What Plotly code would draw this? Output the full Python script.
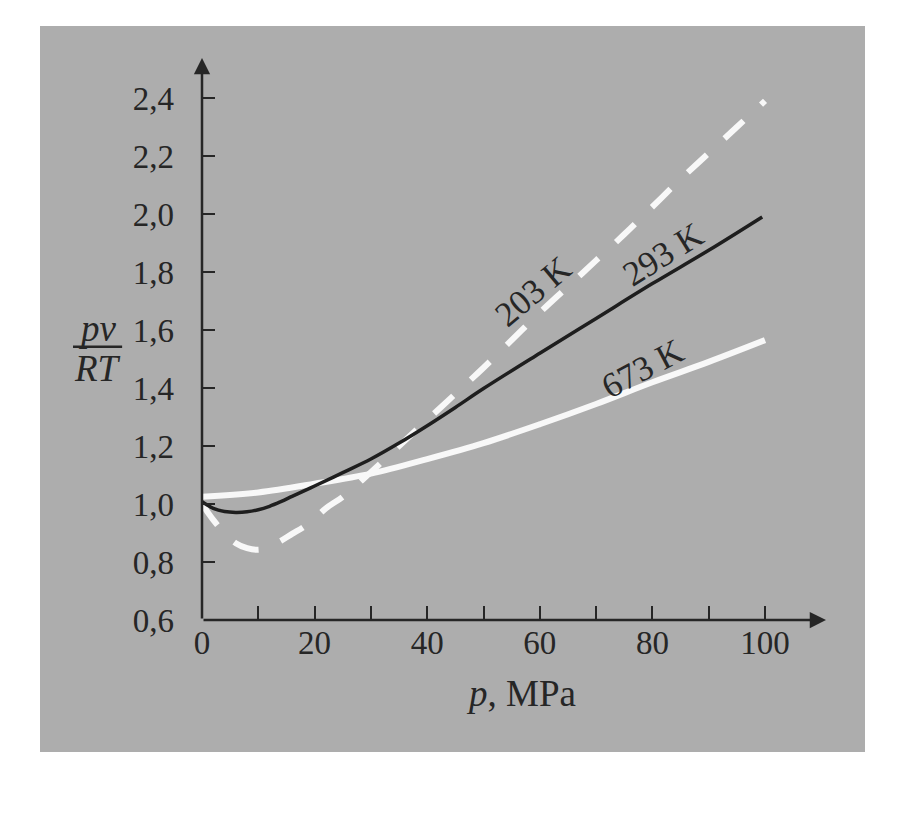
import plotly.graph_objects as go

# ---- data ----
p_203 = [0, 2, 4, 6, 8, 10, 12, 14, 16, 18, 20, 22, 25, 30, 35, 40, 45, 50, 55, 60, 65, 70, 75, 80, 85, 90, 95, 100]
v_203 = [1.0, 0.945, 0.90, 0.865, 0.848, 0.842, 0.852, 0.873, 0.897, 0.92, 0.95, 0.985, 1.025, 1.11, 1.20, 1.29,
         1.38, 1.47, 1.565, 1.66, 1.75, 1.84, 1.93, 2.025, 2.12, 2.21, 2.30, 2.39]

p_293 = [0, 2, 4, 6, 8, 10, 12, 14, 16, 20, 25, 30, 35, 40, 45, 50, 60, 70, 80, 90, 99.5]
v_293 = [1.008, 0.985, 0.974, 0.971, 0.973, 0.98, 0.992, 1.008, 1.026, 1.062, 1.108, 1.155, 1.21, 1.27,
         1.333, 1.398, 1.52, 1.64, 1.76, 1.875, 1.99]

p_673 = [0, 10, 20, 30, 40, 50, 60, 70, 80, 90, 100]
v_673 = [1.025, 1.04, 1.07, 1.105, 1.155, 1.21, 1.275, 1.345, 1.42, 1.49, 1.565]

x_tickvals = [0, 10, 20, 30, 40, 50, 60, 70, 80, 90, 100]
x_ticktext = ["0", "", "20", "", "40", "", "60", "", "80", "", "100"]
y_tickvals = [0.6, 0.8, 1.0, 1.2, 1.4, 1.6, 1.8, 2.0, 2.2, 2.4]
y_ticktext = ["0,6", "0,8", "1,0", "1,2", "1,4", "1,6", "1,8", "2,0", "2,2", "2,4"]

curve_labels = [
    ("203 K", 58.85, 1.732, -40),
    ("293 K", 81.9, 1.859, -32),
    ("673 K", 78.3, 1.469, -28),
]

X_MAX = 110.83
Y_MIN, Y_MAX = 0.6, 2.538
INK = "#262626"
BG = "#adadad"
FONT = "Liberation Serif, Times New Roman, serif"

fig = go.Figure()
fig.add_trace(go.Scatter(x=p_203, y=v_203, mode="lines", line=dict(color="#f8f8f8", width=6, dash="26px,24px"),
                         line_shape="spline", showlegend=False))
fig.add_trace(go.Scatter(x=p_673, y=v_673, mode="lines", line=dict(color="#f8f8f8", width=6),
                         line_shape="spline", showlegend=False))
fig.add_trace(go.Scatter(x=p_293, y=v_293, mode="lines", line=dict(color="#1e1e1e", width=3.5),
                         line_shape="spline", showlegend=False))

# gray scanned panel
fig.add_shape(type="rect", xref="paper", yref="paper", x0=-0.2596, x1=1.0625, y0=-0.2349, y1=1.0569,
              fillcolor=BG, line=dict(width=0), layer="below")

# axes with arrowheads
fig.add_annotation(x=X_MAX, y=Y_MIN, ax=0, ay=Y_MIN, xref="x", yref="y", axref="x", ayref="y",
                   showarrow=True, arrowhead=2, arrowsize=1.3, arrowwidth=2.5, arrowcolor=INK, text="",
                   standoff=0, startstandoff=0)
fig.add_annotation(x=0, y=Y_MAX, ax=0, ay=Y_MIN, xref="x", yref="y", axref="x", ayref="y",
                   showarrow=True, arrowhead=2, arrowsize=1.3, arrowwidth=2.5, arrowcolor=INK, text="",
                   standoff=0, startstandoff=0)

for txt, x, y, ang in curve_labels:
    fig.add_annotation(x=x, y=y, xref="x", yref="y", text=txt, showarrow=False, textangle=ang,
                       font=dict(family=FONT, size=35, color=INK), xanchor="center", yanchor="middle")

# y-axis title as a fraction
fig.add_annotation(x=-0.1675, y=0.518, xref="paper", yref="paper", text="<i>pv</i>", showarrow=False,
                   font=dict(family=FONT, size=37, color=INK), xanchor="center", yanchor="middle")
fig.add_annotation(x=-0.1675, y=0.447, xref="paper", yref="paper", text="<i>RT</i>", showarrow=False,
                   font=dict(family=FONT, size=37, color=INK), xanchor="center", yanchor="middle")
fig.add_shape(type="line", xref="paper", yref="paper", x0=-0.2067, x1=-0.128, y0=0.486, y1=0.486,
              line=dict(color=INK, width=2.5))

# x-axis title
fig.add_annotation(x=0.512, y=-0.13, xref="paper", yref="paper", text="<i>p</i>, MPa", showarrow=False,
                   font=dict(family=FONT, size=37, color=INK), xanchor="center", yanchor="middle")

fig.update_layout(
    width=900, height=814,
    margin=dict(l=202, r=74, t=58, b=194),
    paper_bgcolor="white", plot_bgcolor="rgba(0,0,0,0)",
    xaxis=dict(range=[0, X_MAX], tickvals=x_tickvals, ticktext=x_ticktext, ticks="inside", ticklen=14,
               tickwidth=2, tickcolor=INK, showgrid=False, zeroline=False, showline=False,
               tickfont=dict(family=FONT, size=33, color=INK), ticklabelstandoff=0),
    yaxis=dict(range=[Y_MIN, Y_MAX], tickvals=y_tickvals, ticktext=y_ticktext, ticks="inside", ticklen=13,
               tickwidth=2, tickcolor=INK, showgrid=False, zeroline=False, showline=False,
               tickfont=dict(family=FONT, size=33, color=INK), ticklabelstandoff=27),
)

fig.write_html("out.html")
